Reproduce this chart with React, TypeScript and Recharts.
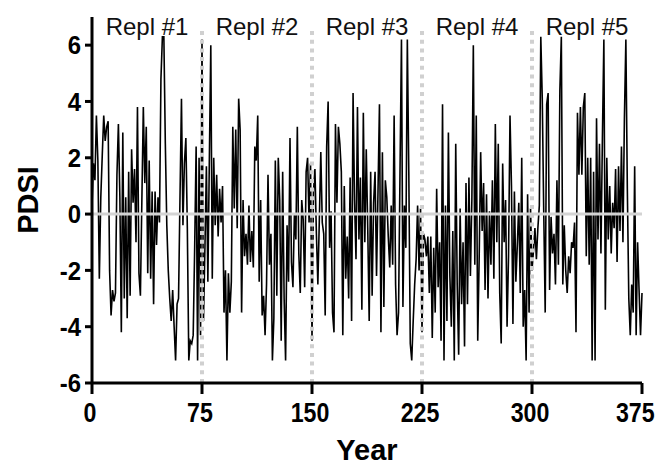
import React from "react";
import { LineChart, Line, XAxis, YAxis, ReferenceLine } from "recharts";

// PDSI values, one per year, split by replicate
const repl1 = [
  0.3, 1.8, 1.2, 3.5, 1.9, -2.3, 0.6, 2.1, 3.5, 2.6, 3.1, 3.3, -2.0, -3.6, -2.7,
  -3.1, -2.8, 1.4, 3.2, 0.6, -4.2, 2.9, -3.0, 0.6, -3.7, 1.5, -2.9, 2.3, 0.4, 1.6,
  -1.0, 3.8, -2.1, -2.9, 0.5, 3.8, 1.1, 3.1, -2.1, 1.9, -2.3, 0.8, -3.2, 0.8, -1.1,
  0.6, -0.3, 4.8, 6.3, 6.3, 2.5, -0.4, -2.0, -3.0, -3.8, -2.7, -4.0, -5.2, -3.2, -3.0,
  0.6, 4.1, -0.4, 1.8, 2.7, -0.5, -5.2, -4.5, -4.6, -4.3, -1.2, 2.4, -5.2, 2.0, -4.3,
];
const repl2 = [
  6.2, -3.8, -1.2, 1.7, -2.4, 1.9, 6.0, -2.3, 2.0, -0.4, 1.4, -0.8, 0.9, -0.3, 1.0,
  -3.5, -2.0, -5.2, -2.1, -3.5, -2.4, 3.1, 0.2, 3.0, -0.5, 4.1, 3.0, -3.5, 0.5, -1.5,
  -0.7, -1.8, 0.3, -1.7, -0.6, -1.9, 2.4, 1.9, 3.5, -2.4, 0.5, -3.6, -2.9, -4.3, -2.5,
  1.4, -1.8, -0.7, -5.2, -3.7, 1.9, -2.9, 2.0, 0.5, -4.5, 1.5, -3.0, -5.2, -0.4, -2.4,
  2.7, -1.7, -2.6, 0.0, -0.9, 3.1, -1.4, -2.8, 0.5, -0.2, -2.6, 1.5, 2.0, -0.3, 1.8,
];
const repl3 = [
  -4.5, 0.8, 1.6, -0.7, -2.5, -0.2, 2.2, -0.3, -0.7, -3.6, 2.4, 4.0, -1.2, 0.1, -3.5,
  -4.2, 3.2, 0.4, 3.1, 2.5, 1.5, -4.3, 1.0, -2.3, -0.8, -3.0, 1.3, -3.8, 4.3, 0.5,
  -1.6, 3.8, -0.9, 1.3, -3.4, 3.6, -1.0, 2.3, -0.5, -3.8, 1.5, -2.9, 0.4, 1.5, -2.2,
  0.8, 3.9, -4.2, 2.2, -3.3, 1.2, 0.6, -0.8, -1.9, 0.3, -1.8, 3.5, -2.5, -4.3, -3.5,
  1.5, 6.2, -3.3, 0.3, -1.2, 6.2, 1.5, -4.6, -5.2, -3.8, -2.5, -1.6, 0.3, -2.0, 0.2,
];
const repl4 = [
  -4.2, -0.7, -0.9, -1.5, -0.8, -2.8, -0.8, -4.4, -1.2, -3.5, 0.9, -2.6, -1.0, -4.5, 3.9,
  -5.2, 0.3, -3.8, 2.9, -2.2, -4.0, -0.6, -5.2, 2.5, -2.5, -5.0, 0.2, -3.2, -1.0, -4.7,
  1.1, -3.2, 1.3, -2.2, 0.5, 6.0, -1.8, 3.5, -4.5, -1.5, 2.2, -0.6, 1.1, -2.7, 0.7,
  -3.0, 0.1, -1.8, 1.2, -2.3, 3.2, -1.0, 2.5, -2.8, -4.6, 1.8, -1.0, 0.5, -4.0, -1.5,
  3.5, 1.0, -3.9, 0.8, -2.4, -1.1, 0.4, -2.8, 2.0, -4.0, -2.7, -5.2, 0.7, -3.5, 0.2,
];
const repl5 = [
  -2.0, -1.3, -0.5, -1.6, -0.5, 0.3, 6.3, 4.1, 0.1, -3.5, 3.9, 4.3, -2.7, -0.1, -1.4,
  -0.7, -2.5, 1.2, -1.8, 4.4, 6.3, -2.5, -0.4, -2.0, -2.8, -1.5, -2.1, -1.0, -1.2, -0.3,
  -4.2, 3.6, 1.4, 3.8, 1.4, 3.8, 4.3, -1.5, 2.0, -1.8, 2.0, -5.2, 1.5, -5.2, 3.4,
  -0.9, 2.5, -1.4, 2.7, 6.2, -3.4, 2.0, -0.9, 1.0, -1.4, 0.4, -0.5, 1.6, -1.7, 1.7,
  -0.6, 2.4, -1.0, 3.4, 6.2, 0.9, -3.0, -4.3, -2.5, -3.5, 1.7, -4.3, -1.0, -2.7, -4.3, -2.8,
];

const xTicks = [0, 75, 150, 225, 300, 375];
const yTicks = [-6, -4, -2, 0, 2, 4, 6];
const replBreaks = [75, 150, 225, 300];
const replLabels = ["Repl #1", "Repl #2", "Repl #3", "Repl #4", "Repl #5"];
const replCenters = [37.5, 112.5, 187.5, 262.5, 337.5];

const pdsi = [...repl1, ...repl2, ...repl3, ...repl4, ...repl5];
const data = pdsi.map((v, i) => ({ year: i, pdsi: v }));

const FONT = "'Liberation Sans', Arial, Helvetica, sans-serif";

const XTick = (props: any) => {
  const { x, y, payload, index } = props;
  const last = index === xTicks.length - 1;
  return (
    <g transform={`translate(${x - 2},${y}) scale(0.86,1)`}>
      <text
        x={last ? 17 : 0}
        y={0}
        dy="0.71em"
        textAnchor={last ? "end" : "middle"}
        fontSize={27}
        fontWeight="bold"
        fontFamily={FONT}
        fill="#000"
      >
        {payload.value}
      </text>
    </g>
  );
};

const YTick = (props: any) => {
  const { x, y, payload } = props;
  return (
    <g transform={`translate(${x},${y}) scale(0.92,1)`}>
      <text x={0} y={0} dy="0.355em" textAnchor="end" fontSize={26} fontWeight="bold" fontFamily={FONT} fill="#000">
        {payload.value}
      </text>
    </g>
  );
};

export default function App() {
  return (
    <div>
      <LineChart
        width={655}
        height={458}
        data={data}
        margin={{ top: 9, right: 21, bottom: 0, left: 0 }}
      >
        <XAxis
          dataKey="year"
          type="number"
          domain={[0, 375]}
          ticks={xTicks}
          interval={0}
          height={83}
          axisLine={{ stroke: "#000", strokeWidth: 3 }}
          tickLine={{ stroke: "#000", strokeWidth: 3 }}
          tickSize={11}
          tickMargin={9}
          tick={<XTick />}
          label={(p: any) => {
            const vb = p.viewBox || {};
            return (
              <text
                x={vb.x + vb.width / 2}
                y={vb.y + vb.height - 6}
                textAnchor="middle"
                fontSize={29}
                fontWeight="bold"
                fontFamily={FONT}
                fill="#000"
              >
                Year
              </text>
            );
          }}
        />
        <YAxis
          type="number"
          domain={[-6, 7]}
          ticks={yTicks}
          interval={0}
          width={84}
          axisLine={{ stroke: "#000", strokeWidth: 3 }}
          tickLine={{ stroke: "#000", strokeWidth: 3 }}
          tickSize={7}
          tickMargin={4}
          tick={<YTick />}
          label={(p: any) => {
            const vb = p.viewBox || {};
            const cx = vb.x + 19.5;
            const cy = vb.y + vb.height / 2;
            return (
              <text
                x={cx}
                y={cy}
                transform={`rotate(-90 ${cx} ${cy})`}
                textAnchor="middle"
                dy="0.36em"
                fontSize={29}
                fontWeight="bold"
                fontFamily={FONT}
                fill="#000"
              >
                PDSI
              </text>
            );
          }}
        />
        <Line
          type="linear"
          dataKey="pdsi"
          stroke="#000"
          strokeWidth={1.6}
          dot={false}
          isAnimationActive={false}
        />
        <ReferenceLine y={0} stroke="#d3d3d3" strokeWidth={3} />
        {replBreaks.map((b) => (
          <ReferenceLine
            key={b}
            segment={[
              { x: b, y: -6 },
              { x: b, y: 6.6 },
            ]}
            stroke="#d0d0d0"
            strokeWidth={4}
            strokeDasharray="4 4.7"
          />
        ))}
        {replCenters.map((c, i) => (
          <ReferenceLine
            key={"l" + c}
            x={c}
            stroke="none"
            label={(p: any) => {
              const vb = p.viewBox || {};
              return (
                <text
                  x={vb.x}
                  y={27}
                  textAnchor="middle"
                  fontSize={24}
                  fontFamily={FONT}
                  fill="#111"
                >
                  {replLabels[i]}
                </text>
              );
            }}
          />
        ))}
      </LineChart>
    </div>
  );
}
